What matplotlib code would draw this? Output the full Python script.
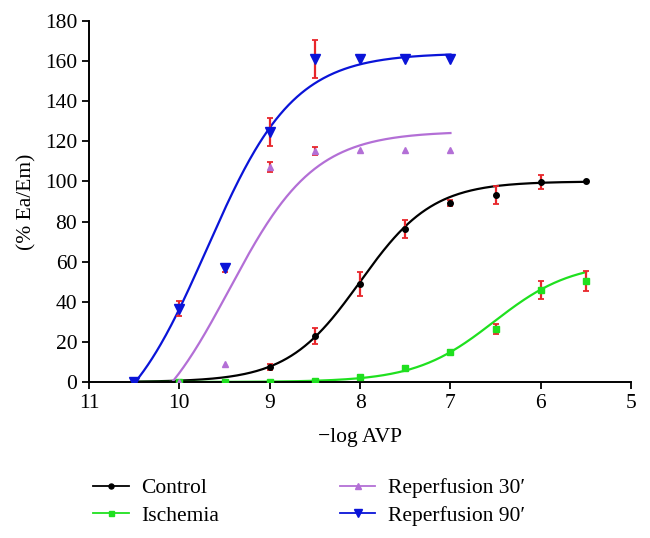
import numpy as np
import matplotlib
matplotlib.use("Agg")
import matplotlib.pyplot as plt
from matplotlib.lines import Line2D

plt.rcParams['font.family'] = ['Liberation Serif', 'DejaVu Serif']

# measured points (-log AVP, % Ea/Em, error)
control_x = [9, 8.5, 8, 7.5, 7, 6.5, 6, 5.5]
control_y = [7.5, 23, 49, 76.5, 89, 93, 99.5, 100]
control_err = [1.5, 4, 6, 4.5, 1.5, 4.5, 3.5, 0]

ischemia_x = [10, 9.5, 9, 8.5, 8, 7.5, 7, 6.5, 6, 5.5]
ischemia_y = [0, 0, 0, 0.3, 2.5, 7, 15, 26.5, 46, 50.5]
ischemia_err = [0, 0, 0, 0, 1.2, 1, 0.8, 2.5, 4.5, 5]

rep30_x = [10, 9.5, 9, 8.5, 8, 7.5, 7]
rep30_y = [0, 9, 107, 115, 115.5, 115.5, 115.5]
rep30_err = [0, 0, 2.5, 2, 0, 0, 0]

rep90_x = [10.5, 10, 9.5, 9, 8.5, 8, 7.5, 7]
rep90_y = [0, 36.5, 57, 124.5, 161, 161, 161, 161]
rep90_err = [0, 3.8, 2, 7, 9.5, 0, 0, 0]

# fitted sigmoid curves: bottom, top, -logEC50, hill, start, end
control_fit = [0, 100, 8.0, 1.08, 10.5, 5.5]
ischemia_fit = [0, 60, 6.52, 1.0, 10.5, 5.5]
rep30_fit = [-33, 125, 9.45, 0.92, 10.1, 7.0]
rep90_fit = [-32, 164, 9.7, 0.9, 10.5, 7.0]

names = ['Control', 'Ischemia', 'Reperfusion 30\u2032', 'Reperfusion 90\u2032']
colors = ['black', '#1fe01f', '#b36fd6', '#0a14d8']
markers = ['o', 's', '^', 'v']
msizes = [4, 4, 5, 7]


def sigmoid(p, b, t, p50, h):
    return b + (t - b) / (1 + 10 ** (h * (p - p50)))


fig = plt.figure(figsize=(6.5, 5.38), dpi=100)
ax = fig.add_axes([0.137, 0.29, 0.834, 0.671])

series = [
    (control_x, control_y, control_err, control_fit),
    (ischemia_x, ischemia_y, ischemia_err, ischemia_fit),
    (rep30_x, rep30_y, rep30_err, rep30_fit),
    (rep90_x, rep90_y, rep90_err, rep90_fit),
]

for (x, y, e, fit), c, m, ms in zip(series, colors, markers, msizes):
    b, t, p50, h, p0, p1 = fit
    p = np.linspace(p0, p1, 300)
    yc = np.clip(sigmoid(p, b, t, p50, h), 0, None)
    ax.plot(p, yc, color=c, lw=1.6, zorder=2)
    x, y, e = np.array(x), np.array(y), np.array(e)
    k = e > 0
    ax.errorbar(x[k], y[k], yerr=e[k], fmt='none', ecolor='#e8262b', elinewidth=1.6,
                capsize=2.5, capthick=1.3, zorder=3)
    ax.plot(x, y, ls='none', marker=m, color=c, ms=ms, zorder=4)

ax.set_xlim(11, 5)
ax.set_ylim(0, 180)
ax.set_xticks([11, 10, 9, 8, 7, 6, 5])
ax.set_yticks(range(0, 181, 20))
for s in ['top', 'right']:
    ax.spines[s].set_visible(False)
for s in ['left', 'bottom']:
    ax.spines[s].set_linewidth(1.4)
ax.tick_params(direction='out', length=5, width=1.3, labelsize=15.5)
ax.set_xlabel('\u2212log AVP', fontsize=15.5, labelpad=11)
ax.set_ylabel('(% Ea/Em)', fontsize=15.5, labelpad=6)

handles = [Line2D([], [], color=c, marker=m, ms=ms * 0.9, lw=1.3)
           for c, m, ms in zip(colors, markers, msizes)]
fig.legend(handles, names, ncol=2, loc='upper left', bbox_to_anchor=(0.13, 0.127),
           frameon=False, fontsize=15.5, handlelength=1.65, handletextpad=0.6,
           columnspacing=5.6, labelspacing=0.35, borderaxespad=0)

fig.savefig('out.png', dpi=100)
